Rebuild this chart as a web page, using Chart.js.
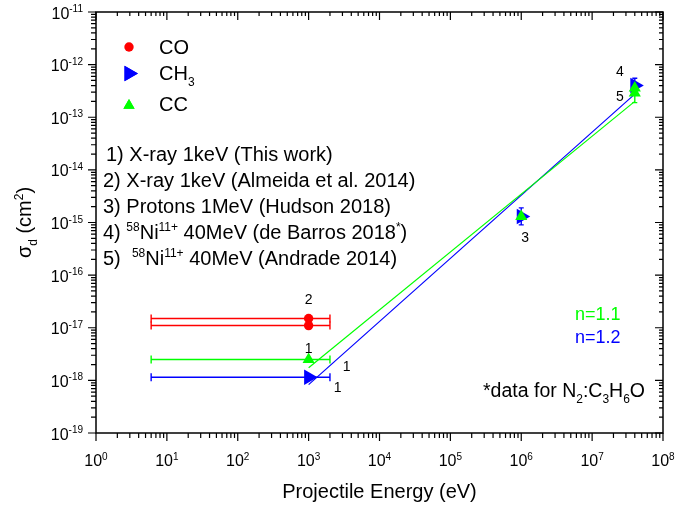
<!DOCTYPE html>
<html><head><meta charset="utf-8">
<script src="https://cdn.jsdelivr.net/npm/chart.js@4/dist/chart.umd.min.js"></script>
<style>html,body{margin:0;padding:0;background:#fff}#wrap{width:677px;height:509px;position:relative}</style>
</head><body><div id="wrap"><canvas id="c"></canvas></div>
<script>
// ---- data ----
const coEnergy = [1000, 1000];
const coSigma = [1.5e-17, 1.1e-17];
const coErrX = [[6, 2000], [6, 2000]];
const coErrY = [null, null];

const ch3Energy = [1000, 1e6, 4e7];
const ch3Sigma = [1.15e-18, 1.3e-15, 4.0e-13];
const ch3ErrX = [[6, 2000], null, null];
const ch3ErrY = [null, [0.9e-15, 1.9e-15], [2.6e-13, 5.5e-13]];

const ccEnergy = [1000, 1e6, 4e7, 4e7];
const ccSigma = [2.5e-18, 1.3e-15, 3.6e-13, 2.9e-13];
const ccErrX = [[6, 2000], null, null, null];
const ccErrY = [null, null, [3.0e-13, 4.6e-13], [1.9e-13, 3.8e-13]];

const fitEnergy = [1000, 4e7];
const ccFit = [1.74e-18, 2.0e-13];
const ch3Fit = [8.3e-19, 2.75e-13];

const xTickExponents = [0, 1, 2, 3, 4, 5, 6, 7, 8];
const yTickExponents = [-19, -18, -17, -16, -15, -14, -13, -12, -11];

const seriesNames = ['CO', 'CH3', 'CC'];
const refNotes = [
  [['1) X-ray 1keV (This work)', '']],
  [['2) X-ray 1keV (Almeida et al. 2014)', '']],
  [['3) Protons 1MeV (Hudson 2018)', '']],
  [['4) ', ''], ['58', 'sup'], ['Ni', ''], ['11+', 'sup'], [' 40MeV (de Barros 2018', ''], ['*', 'sup'], [')', '']],
  [['5)  ', ''], ['58', 'sup'], ['Ni', ''], ['11+', 'sup'], [' 40MeV (Andrade 2014)', '']]
];
// point labels: [energy, sigma, text]
const pointLabels = [
  [1000, 1.5e-17, '2'], [1000, 1.1e-17, '1'], [1000, 2.5e-18, '1'], [1000, 1.15e-18, '1'],
  [1e6, 1.3e-15, '3'], [4e7, 4.0e-13, '4'], [4e7, 2.9e-13, '5']
];

const RED = '#ff0000', BLUE = '#0000ff', GREEN = '#00ff00';
const FONT = '"Liberation Sans", Arial, sans-serif';

const series = [
  {x: coEnergy, y: coSigma, ex: coErrX, ey: coErrY, color: RED},
  {x: ch3Energy, y: ch3Sigma, ex: ch3ErrX, ey: ch3ErrY, color: BLUE},
  {x: ccEnergy, y: ccSigma, ex: ccErrX, ey: ccErrY, color: GREEN}
];
const pts = (xs, ys) => xs.map((v, i) => ({x: v, y: ys[i]}));

function fontFor(kind, size) {
  const s = kind ? Math.round(size * 0.62) : size;
  return s + 'px ' + FONT;
}
function rich(ctx, x, y, parts, size, align) {
  const widths = parts.map(([t, k]) => { ctx.font = fontFor(k, size); return ctx.measureText(t).width; });
  const total = widths.reduce((a, b) => a + b, 0);
  let cx = align === 'center' ? x - total / 2 : align === 'right' ? x - total : x;
  ctx.textAlign = 'left'; ctx.textBaseline = 'alphabetic';
  parts.forEach(([t, k], i) => {
    ctx.font = fontFor(k, size);
    const dy = k === 'sup' ? -size * 0.4 : k === 'sub' ? size * 0.3 : 0;
    ctx.fillText(t, cx, y + dy);
    cx += widths[i];
  });
}

const errorBars = {
  id: 'errorBars',
  beforeDatasetsDraw(chart) {
    const ctx = chart.ctx, xs = chart.scales.x, ys = chart.scales.y;
    ctx.save();
    ctx.lineWidth = 1.4;
    series.forEach(s => {
      ctx.strokeStyle = s.color;
      s.x.forEach((xv, i) => {
        const px = xs.getPixelForValue(xv);
        const py = ys.getPixelForValue(s.y[i]);
        if (s.ex[i]) {
          const a = xs.getPixelForValue(s.ex[i][0]), b = xs.getPixelForValue(s.ex[i][1]);
          ctx.beginPath();
          ctx.moveTo(a, py); ctx.lineTo(b, py);
          ctx.moveTo(a, py - 4); ctx.lineTo(a, py + 4);
          ctx.moveTo(b, py - 4); ctx.lineTo(b, py + 4);
          ctx.stroke();
        }
        if (s.ey[i]) {
          const a = ys.getPixelForValue(s.ey[i][0]), b = ys.getPixelForValue(s.ey[i][1]);
          ctx.beginPath();
          ctx.moveTo(px, a); ctx.lineTo(px, b);
          ctx.moveTo(px - 2.5, a); ctx.lineTo(px + 2.5, a);
          ctx.moveTo(px - 2.5, b); ctx.lineTo(px + 2.5, b);
          ctx.stroke();
        }
      });
    });
    ctx.restore();
  }
};

const decor = {
  id: 'decor',
  afterDraw(chart) {
    const ctx = chart.ctx, xs = chart.scales.x, ys = chart.scales.y, a = chart.chartArea;
    ctx.save();
    ctx.fillStyle = '#000'; ctx.strokeStyle = '#000';
    // frame
    ctx.lineWidth = 1.5;
    ctx.strokeRect(a.left, a.top, a.right - a.left, a.bottom - a.top);
    // ticks
    ctx.lineWidth = 1.2;
    ctx.beginPath();
    xTickExponents.forEach((e, k) => {
      const p = xs.getPixelForValue(Math.pow(10, e));
      ctx.moveTo(p, a.bottom); ctx.lineTo(p, a.bottom + 8);
      ctx.moveTo(p, a.top); ctx.lineTo(p, a.top + 8);
      if (k < xTickExponents.length - 1) for (let m = 2; m <= 9; m++) {
        const q = xs.getPixelForValue(m * Math.pow(10, e));
        ctx.moveTo(q, a.bottom); ctx.lineTo(q, a.bottom + 5);
        ctx.moveTo(q, a.top); ctx.lineTo(q, a.top + 4);
      }
    });
    yTickExponents.forEach((e, k) => {
      const p = ys.getPixelForValue(Math.pow(10, e));
      ctx.moveTo(a.left, p); ctx.lineTo(a.left - 8, p);
      ctx.moveTo(a.right, p); ctx.lineTo(a.right - 8, p);
      if (k < yTickExponents.length - 1) for (let m = 2; m <= 9; m++) {
        const q = ys.getPixelForValue(m * Math.pow(10, e));
        ctx.moveTo(a.left, q); ctx.lineTo(a.left - 5, q);
        ctx.moveTo(a.right, q); ctx.lineTo(a.right - 4, q);
      }
    });
    ctx.stroke();
    // tick labels
    xTickExponents.forEach(e => {
      const p = xs.getPixelForValue(Math.pow(10, e));
      rich(ctx, p, a.bottom + 33, [['10', ''], [String(e), 'sup']], 16, 'center');
    });
    yTickExponents.forEach(e => {
      const p = ys.getPixelForValue(Math.pow(10, e));
      rich(ctx, a.left - 13, p + 6.5, [['10', ''], [String(e), 'sup']], 16, 'right');
    });
    // axis titles
    rich(ctx, (a.left + a.right) / 2, 498, [['Projectile Energy (eV)', '']], 20, 'center');
    ctx.save();
    ctx.translate(31, (a.top + a.bottom) / 2);
    ctx.rotate(-Math.PI / 2);
    rich(ctx, 0, 0, [['\u03c3', ''], ['d', 'sub'], [' (cm', ''], ['2', 'sup'], [')', '']], 20, 'center');
    ctx.restore();
    // legend
    ctx.fillStyle = RED; ctx.beginPath(); ctx.arc(129, 47, 4.7, 0, Math.PI * 2); ctx.fill();
    ctx.fillStyle = BLUE;
    Chart.helpers.drawPoint(ctx, {pointStyle: 'triangle', radius: 9, rotation: 90, borderWidth: 0}, 129, 73.5);
    ctx.fill();
    ctx.fillStyle = GREEN;
    Chart.helpers.drawPoint(ctx, {pointStyle: 'triangle', radius: 6.5, rotation: 0, borderWidth: 0}, 129, 105.5);
    ctx.fill();
    ctx.fillStyle = '#000';
    rich(ctx, 159, 54, [[seriesNames[0], '']], 20, 'left');
    rich(ctx, 159, 80, [['CH', ''], ['3', 'sub']], 20, 'left');
    rich(ctx, 159, 111, [[seriesNames[2], '']], 20, 'left');
    // reference list
    const listY = [161, 187, 213, 239, 265];
    refNotes.forEach((parts, i) => rich(ctx, i === 0 ? 106 : 103, listY[i], parts, 20, 'left'));
    // point labels
    const offs = [[0, -14], [0, 27], [38, 12], [29, 15], [4, 25], [-15, -10], [-15, 8]];
    pointLabels.forEach(([ex, sy, t], i) => {
      const px = xs.getPixelForValue(ex) + offs[i][0];
      const py = ys.getPixelForValue(sy) + offs[i][1];
      rich(ctx, px, py, [[t, '']], 14, 'center');
    });
    // exponents
    ctx.fillStyle = GREEN;
    rich(ctx, 575, 320, [['n=1.1', '']], 18, 'left');
    ctx.fillStyle = BLUE;
    rich(ctx, 575, 343, [['n=1.2', '']], 18, 'left');
    ctx.fillStyle = '#000';
    rich(ctx, 645, 397, [['*data for N', ''], ['2', 'sub'], [':C', ''], ['3', 'sub'], ['H', ''], ['6', 'sub'], ['O', '']], 19.5, 'right');
    ctx.restore();
  }
};

new Chart(document.getElementById('c'), {
  type: 'scatter',
  data: {
    datasets: [
      {label: 'CC', data: pts(ccEnergy, ccSigma), pointStyle: 'triangle', pointRadius: 7, pointRotation: 0,
       backgroundColor: GREEN, borderColor: GREEN, pointBorderWidth: 0, order: 0},
      {label: 'CH3', data: pts(ch3Energy, ch3Sigma), pointStyle: 'triangle', pointRadius: 9, pointRotation: 90,
       backgroundColor: BLUE, borderColor: BLUE, pointBorderWidth: 0, order: 1},
      {label: 'CO', data: pts(coEnergy, coSigma), pointStyle: 'circle', pointRadius: 4.7,
       backgroundColor: RED, borderColor: RED, pointBorderWidth: 0, order: 2},
      {label: 'fit CC', data: pts(fitEnergy, ccFit), showLine: true, pointRadius: 0, borderColor: GREEN, borderWidth: 1.2, order: 3},
      {label: 'fit CH3', data: pts(fitEnergy, ch3Fit), showLine: true, pointRadius: 0, borderColor: BLUE, borderWidth: 1.2, order: 4}
    ]
  },
  options: {
    responsive: true, maintainAspectRatio: false, animation: false, devicePixelRatio: 1,
    layout: {padding: {top: 12, right: 14, left: 0, bottom: 0}},
    plugins: {legend: {display: false}, tooltip: {enabled: false}},
    scales: {
      x: {type: 'logarithmic', min: 1, max: 1e8, ticks: {display: false}, grid: {display: false}, border: {display: false},
          afterFit(s) { s.height = 76; }},
      y: {type: 'logarithmic', min: 1e-19, max: 1e-11, ticks: {display: false}, grid: {display: false}, border: {display: false},
          afterFit(s) { s.width = 96; }}
    }
  },
  plugins: [errorBars, decor]
});
</script>
</body></html>
